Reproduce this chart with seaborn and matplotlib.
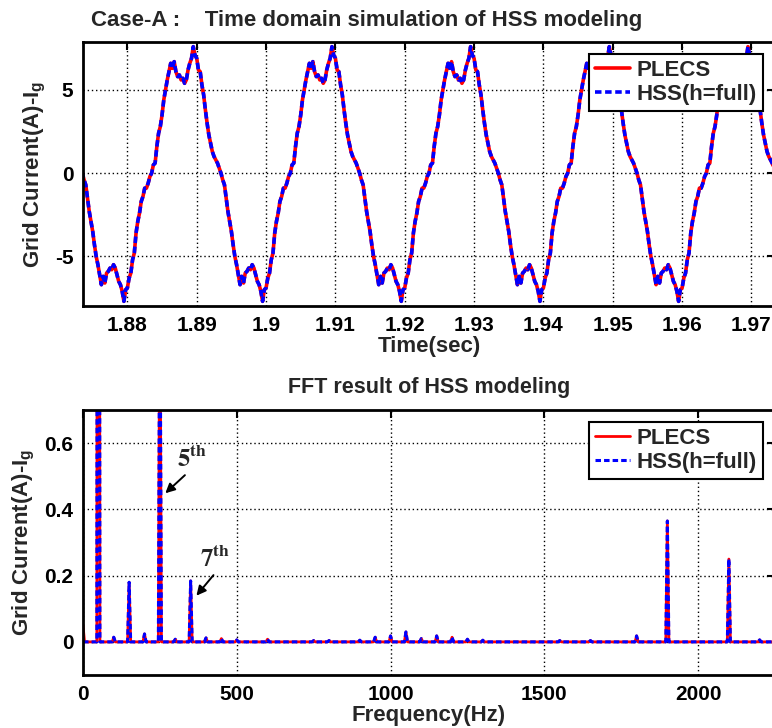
import numpy as np
import pandas as pd
import matplotlib
matplotlib.use('Agg')
import matplotlib.pyplot as plt
import seaborn as sns

# one 20 ms cycle of the grid current, read every 0.25 ms starting at t = 1.88 s
cycle_start = 1.86
cycle_step = 0.00025
n_cycles = 6
plecs_cycle = [-6.9, -6.3, -6.0, -5.2, -4.8, -3.6, -2.9, -2.4, -1.7, -1.4,
               -0.9, -0.9, -0.6, -0.2, 0.0, 0.5, 0.6, 1.6, 2.4, 2.8,
               3.5, 4.4, 5.0, 5.6, 6.1, 6.6, 6.3, 6.7, 6.1, 5.8,
               5.9, 5.6, 5.7, 5.4, 5.6, 6.2, 6.6, 6.9, 7.6, 7.1,
               6.9, 6.2, 6.1, 5.3, 4.7, 3.8, 3.0, 2.3, 1.8, 1.3,
               1.0, 0.8, 0.6, 0.3, 0.0, -0.4, -0.7, -1.5, -2.3, -2.9,
               -3.5, -4.3, -5.0, -5.5, -6.1, -6.7, -6.2, -6.6, -6.0, -5.9,
               -5.7, -5.8, -5.5, -5.7, -6.1, -6.5, -6.7, -7.1, -7.7, -7.0]
hss_cycle = list(plecs_cycle)

time_ticks = [1.88, 1.89, 1.90, 1.91, 1.92, 1.93, 1.94, 1.95, 1.96, 1.97]
time_tick_labels = ['1.88', '1.89', '1.9', '1.91', '1.92', '1.93', '1.94', '1.95', '1.96', '1.97']
wave_ticks = [-5, 0, 5]

# FFT harmonics (Hz, amplitude A)
harm_freq = [50, 100, 150, 200, 250, 300, 350, 400, 450, 500, 600, 750, 800, 900,
             950, 1000, 1050, 1100, 1150, 1200, 1250, 1300, 1550, 1650, 1800,
             1900, 2100, 2200]
harm_amp = [6.4, 0.014, 0.18, 0.024, 1.2, 0.008, 0.184, 0.012, 0.01, 0.006, 0.008,
            0.004, 0.004, 0.005, 0.014, 0.018, 0.03, 0.01, 0.018, 0.014, 0.008,
            0.005, 0.004, 0.004, 0.018, 0.365, 0.25, 0.006]
plecs_dc = 0.05
fft_step = 5
fft_max = 2250
fft_xticks = [0, 500, 1000, 1500, 2000]
fft_yticks = [0, 0.2, 0.4, 0.6]
fft_ytick_labels = ['0', '0.2', '0.4', '0.6']

# build tables
t = cycle_start + cycle_step * np.arange(len(plecs_cycle) * n_cycles)
wave = pd.DataFrame({'t': t,
                     'PLECS': np.tile(plecs_cycle, n_cycles),
                     'HSS': np.tile(hss_cycle, n_cycles)})

freq = np.arange(0, fft_max + fft_step, fft_step)
plecs_fft = np.zeros(len(freq))
hss_fft = np.zeros(len(freq))
for f, a in zip(harm_freq, harm_amp):
    plecs_fft[freq == f] = a
    hss_fft[freq == f] = a
plecs_fft[0] = plecs_dc
spec = pd.DataFrame({'f': freq, 'PLECS': plecs_fft, 'HSS': hss_fft})

sns.set_style('white')
plt.rcParams['font.family'] = ['Liberation Sans', 'DejaVu Sans']
plt.rcParams['font.weight'] = 'bold'
plt.rcParams['axes.labelweight'] = 'bold'
plt.rcParams['axes.titleweight'] = 'bold'

fig = plt.figure(figsize=(7.72, 7.28), dpi=100)
ax1 = fig.add_axes([83 / 772, 1 - 306 / 728, 692 / 772, 264 / 728])
ax2 = fig.add_axes([83 / 772, 1 - 675 / 728, 692 / 772, 265 / 728])

dash = (0, (1.8, 1.0))

sns.lineplot(data=wave, x='t', y='PLECS', ax=ax1, color='red', lw=2.6,
             label='PLECS', estimator=None, sort=False)
sns.lineplot(data=wave, x='t', y='HSS', ax=ax1, color='blue', lw=2.6,
             linestyle=dash, label='HSS(h=full)', estimator=None, sort=False)

sns.lineplot(data=spec, x='f', y='PLECS', ax=ax2, color='red', lw=2.0,
             label='PLECS', estimator=None, sort=False)
sns.lineplot(data=spec, x='f', y='HSS', ax=ax2, color='blue', lw=2.2,
             linestyle=dash, label='HSS(h=full)', estimator=None, sort=False)

ax1.set_xlim(1.8736, 1.9734)
ax1.set_ylim(-7.98, 7.88)
ax1.set_xticks(time_ticks)
ax1.set_xticklabels(time_tick_labels)
ax1.set_yticks(wave_ticks)
ax1.set_yticklabels([str(v) for v in wave_ticks])
ax1.set_xlabel('Time(sec)', fontsize=16, labelpad=1)
ax1.set_ylabel('Grid Current(A)-I$_\\mathregular{g}$', fontsize=16, labelpad=5)
ax1.text(0.012, 1.06, 'Case-A :    Time domain simulation of HSS modeling',
         transform=ax1.transAxes, fontsize=16, fontweight='bold',
         ha='left', va='baseline')

ax2.set_xlim(0, fft_max)
ax2.set_ylim(-0.1, 0.7)
ax2.set_xticks(fft_xticks)
ax2.set_xticklabels([str(v) for v in fft_xticks])
ax2.set_yticks(fft_yticks)
ax2.set_yticklabels(fft_ytick_labels)
ax2.set_xlabel('Frequency(Hz)', fontsize=16, labelpad=1)
ax2.set_ylabel('Grid Current(A)-I$_\\mathregular{g}$', fontsize=16, labelpad=5)
ax2.set_title('FFT result of HSS modeling', fontsize=15.5, pad=12)

for ax in (ax1, ax2):
    ax.grid(True, color='black', linestyle=(0, (1, 2)), linewidth=1.0)
    ax.set_axisbelow(True)
    ax.tick_params(direction='in', top=True, right=True, length=6, width=1.5,
                   labelsize=15, pad=7, colors='black')
    for s in ax.spines.values():
        s.set_visible(True)
        s.set_color('black')
        s.set_linewidth(2.0)
    leg = ax.legend(loc='upper right', fontsize=16, frameon=True, fancybox=False,
                    framealpha=1, edgecolor='black', borderpad=0.25,
                    handlelength=1.6, handletextpad=0.3, labelspacing=0.15,
                    borderaxespad=0.55)
    leg.get_frame().set_linewidth(1.5)

ax2.annotate('', xy=(261, 0.443), xytext=(338, 0.509),
             arrowprops=dict(arrowstyle='-|>', color='black', lw=1.4, mutation_scale=14))
ax2.text(354, 0.55, r'$\mathbf{5}^{\mathbf{th}}$', math_fontfamily='stix',
         fontsize=18, ha='center', va='center')
ax2.annotate('', xy=(363, 0.133), xytext=(430, 0.208),
             arrowprops=dict(arrowstyle='-|>', color='black', lw=1.4, mutation_scale=14))
ax2.text(430, 0.25, r'$\mathbf{7}^{\mathbf{th}}$', math_fontfamily='stix',
         fontsize=18, ha='center', va='center')

fig.savefig('out.png', dpi=100)
